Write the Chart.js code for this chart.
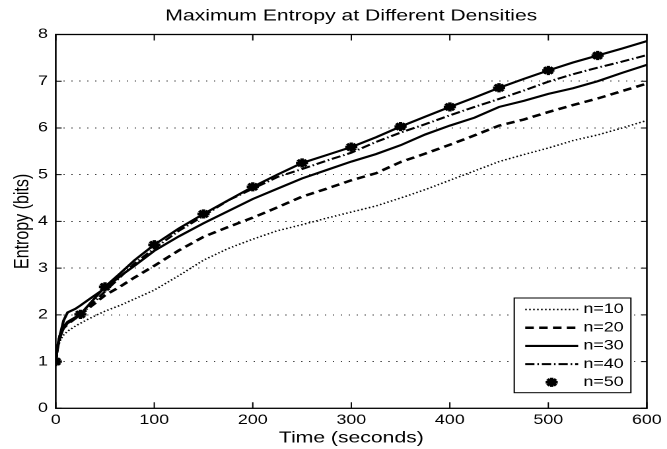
<!DOCTYPE html>
<html><head><meta charset="utf-8">
<script src="https://cdn.jsdelivr.net/npm/chart.js@4.4.1/dist/chart.umd.min.js"></script>
<style>
html,body{margin:0;padding:0;background:#fff;overflow:hidden;}
#wrap{width:505px;height:449px;transform:scaleX(1.32079);transform-origin:0 0;}
canvas{display:block}
</style></head><body>
<div id="wrap"><canvas id="c" width="505" height="449"></canvas></div>
<script>
// ---- data ----
const times = [0,2,5,8,12,20,25,35,50,65,80,100,125,150,175,200,225,250,275,300,325,350,375,400,425,450,475,500,525,550,575,600];
const n10 = [1.00,1.30,1.48,1.57,1.65,1.76,1.82,1.93,2.08,2.20,2.34,2.53,2.84,3.17,3.42,3.62,3.80,3.93,4.07,4.20,4.33,4.50,4.68,4.88,5.08,5.28,5.43,5.57,5.73,5.85,6.00,6.16];
const n20 = [1.00,1.35,1.60,1.72,1.80,1.93,2.00,2.17,2.42,2.60,2.80,3.05,3.38,3.67,3.88,4.08,4.30,4.53,4.70,4.88,5.03,5.27,5.45,5.64,5.84,6.05,6.18,6.34,6.49,6.63,6.79,6.95];
const n30 = [1.00,1.35,1.62,1.88,2.05,2.13,2.20,2.35,2.57,2.82,3.05,3.37,3.68,3.96,4.22,4.48,4.70,4.92,5.10,5.28,5.44,5.63,5.86,6.05,6.22,6.45,6.58,6.73,6.85,7.00,7.18,7.35];
const n40 = [1.00,1.30,1.55,1.72,1.82,1.92,2.00,2.20,2.50,2.80,3.10,3.42,3.80,4.12,4.45,4.70,4.95,5.12,5.30,5.47,5.70,5.90,6.08,6.27,6.45,6.62,6.80,6.99,7.15,7.29,7.42,7.56];
const n50 = [1.00,1.35,1.62,1.75,1.85,1.95,2.01,2.25,2.60,2.88,3.17,3.50,3.85,4.16,4.45,4.74,5.00,5.25,5.42,5.59,5.80,6.03,6.24,6.45,6.65,6.86,7.05,7.23,7.40,7.55,7.70,7.86];
const markerTimes = [0,25,50,100,150,200,250,300,350,400,450,500,550];
const markerVals  = [1.00,2.01,2.60,3.50,4.16,4.74,5.25,5.59,6.03,6.45,6.86,7.23,7.55];
const xTicks = [0,100,200,300,400,500,600];
const yTicks = [0,1,2,3,4,5,6,7,8];
const titleText = 'Maximum Entropy at Different Densities';
const xLabel = 'Time (seconds)';
const yLabel = 'Entropy (bits)';

const FONT = "'Liberation Sans', Arial, Helvetica, sans-serif";
const pts = (xs, ys) => xs.map((x, i) => ({x: x, y: ys[i]}));

function drawStar(ctx, x, y, r, w) {
  ctx.save();
  ctx.setLineDash([]);
  ctx.strokeStyle = '#000';
  ctx.lineWidth = w;
  ctx.beginPath();
  for (let k = 0; k < 4; k++) {
    const a = k * Math.PI / 4;
    ctx.moveTo(x - r * Math.cos(a), y - r * Math.sin(a));
    ctx.lineTo(x + r * Math.cos(a), y + r * Math.sin(a));
  }
  ctx.stroke();
  ctx.restore();
}

const framePlugin = {
  id: 'frameLegend',
  afterDraw(chart) {
    const ctx = chart.ctx;
    const {left, right, top, bottom} = chart.chartArea;
    const xs = chart.scales.x, ys = chart.scales.y;
    ctx.save();
    ctx.setLineDash([]);
    ctx.strokeStyle = '#000';
    ctx.lineWidth = 1.3;
    ctx.strokeRect(left, top, right - left, bottom - top);
    ctx.lineWidth = 1;
    ctx.beginPath();
    xs.ticks.forEach(t => {
      const px = xs.getPixelForValue(t.value);
      ctx.moveTo(px, bottom); ctx.lineTo(px, bottom - 6);
      ctx.moveTo(px, top); ctx.lineTo(px, top + 6);
    });
    ys.ticks.forEach(t => {
      const py = ys.getPixelForValue(t.value);
      ctx.moveTo(left, py); ctx.lineTo(left + 4.5, py);
      ctx.moveTo(right, py); ctx.lineTo(right - 4.5, py);
    });
    ctx.stroke();

    // legend box
    const bw = 88.3, bh = 94.7;
    const br = right - 12.1, bb = bottom - 15.6;
    const bl = br - bw, bt = bb - bh;
    ctx.fillStyle = '#fff';
    ctx.fillRect(bl, bt, bw, bh);
    ctx.strokeStyle = '#000';
    ctx.lineWidth = 1;
    ctx.strokeRect(bl, bt, bw, bh);
    const items = chart.data.datasets.filter(d => d.inLegend);
    items.forEach((d, i) => {
      const y = bt + 11.5 + i * 18.2;
      const x0 = bl + 8.3, x1 = bl + 48.4;
      if (d.showLine === false) {
        drawStar(ctx, (x0 + x1) / 2, y, d.pointRadius, d.pointBorderWidth);
      } else {
        ctx.save();
        ctx.strokeStyle = d.borderColor;
        ctx.lineWidth = d.borderWidth;
        ctx.setLineDash(d.borderDash || []);
        ctx.beginPath(); ctx.moveTo(x0, y); ctx.lineTo(x1, y); ctx.stroke();
        ctx.restore();
      }
      ctx.fillStyle = '#000';
      ctx.font = '13.5px ' + FONT;
      ctx.textAlign = 'left';
      ctx.textBaseline = 'middle';
      ctx.fillText(d.label, bl + 52.4, y);
    });
    ctx.restore();
  }
};

const common = {borderColor: '#000', pointRadius: 0, tension: 0, fill: false};
new Chart(document.getElementById('c'), {
  type: 'line',
  data: {
    datasets: [
      Object.assign({label: 'n=10', data: pts(times, n10), borderWidth: 1.5, borderDash: [1.2, 1.8], inLegend: true}, common),
      Object.assign({label: 'n=20', data: pts(times, n20), borderWidth: 2.5, borderDash: [6.5, 4], inLegend: true}, common),
      Object.assign({label: 'n=30', data: pts(times, n30), borderWidth: 2.1, borderDash: [], inLegend: true}, common),
      Object.assign({label: 'n=40', data: pts(times, n40), borderWidth: 2.0, borderDash: [7, 2.2, 1.2, 2.2], inLegend: true}, common),
      Object.assign({label: 'n=50 line', data: pts(times, n50), borderWidth: 2.1, borderDash: [], inLegend: false}, common),
      {label: 'n=50', data: pts(markerTimes, markerVals), showLine: false, pointStyle: 'star',
       pointRadius: 4.6, pointBorderWidth: 2.6, pointBorderColor: '#000', pointBackgroundColor: '#000',
       borderColor: '#000', inLegend: true}
    ]
  },
  options: {
    responsive: false,
    devicePixelRatio: 2,
    animation: false,
    events: [],
    layout: {padding: {left: 0, right: 11.6, top: 0, bottom: 0}},
    plugins: {
      legend: {display: false},
      tooltip: {enabled: false},
      title: {display: true, text: titleText, fullSize: false, color: '#000',
              font: {family: FONT, size: 16, weight: 'normal'}, padding: {top: 6.4, bottom: 8.9}}
    },
    scales: {
      x: {
        type: 'linear', min: 0, max: 600,
        afterBuildTicks: s => { s.ticks = xTicks.map(v => ({value: v})); },
        afterFit: s => { s.height = 40.7; },
        grid: {display: false, drawTicks: false},
        border: {display: false},
        ticks: {color: '#000', font: {family: FONT, size: 13.5}, padding: 4, maxRotation: 0},
        title: {display: true, text: xLabel, color: '#000', font: {family: FONT, size: 16}, padding: {top: 0, bottom: 1.4}}
      },
      y: {
        type: 'linear', min: 0, max: 8,
        afterBuildTicks: s => { s.ticks = yTicks.map(v => ({value: v})); },
        afterFit: s => { s.width = 42.2; },
        grid: {drawTicks: false, lineWidth: 1,
               color: c => (c.tick && (c.tick.value === 0 || c.tick.value === 8)) ? 'rgba(0,0,0,0)' : 'rgba(0,0,0,0.75)'},
        border: {display: false, dash: [1, 5]},
        ticks: {color: '#000', font: {family: FONT, size: 13.5}, padding: 6},
        title: {display: true, text: yLabel, color: '#000', font: {family: FONT, size: 16}, padding: {top: 7.5, bottom: 0}}
      }
    }
  },
  plugins: [framePlugin]
});
</script>
</body></html>
